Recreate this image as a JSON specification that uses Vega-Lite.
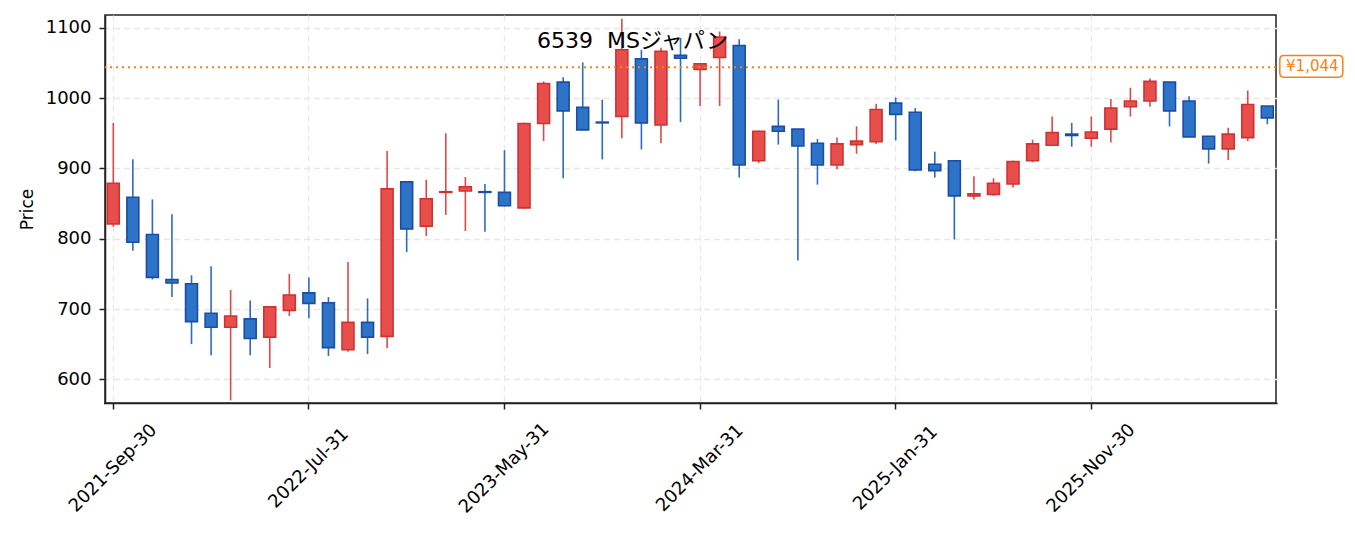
{
  "$schema": "https://vega.github.io/schema/vega-lite/v6.json",
  "width": 1171,
  "height": 388,
  "autosize": {"type": "none"},
  "padding": {"left": 105, "top": 15, "right": 79, "bottom": 130},
  "background": "white",
  "title": {
    "text": "6539\u00a0\u00a0MSジャパン",
    "anchor": "middle",
    "frame": "group",
    "offset": -55,
    "dx": -58,
    "baseline": "alphabetic",
    "font": "DejaVu Sans, Noto Sans CJK JP",
    "fontSize": 22,
    "fontWeight": "normal",
    "color": "#000000"
  },
  "datasets": {
    "candles": [
      {"d": "2021-Sep-30", "o": 821, "h": 965, "l": 817, "c": 879},
      {"d": "2021-Oct-31", "o": 859, "h": 913, "l": 783, "c": 795},
      {"d": "2021-Nov-30", "o": 806, "h": 856, "l": 742, "c": 745},
      {"d": "2021-Dec-31", "o": 742, "h": 835, "l": 717, "c": 737},
      {"d": "2022-Jan-31", "o": 736, "h": 748, "l": 650, "c": 682},
      {"d": "2022-Feb-28", "o": 694, "h": 761, "l": 634, "c": 674},
      {"d": "2022-Mar-31", "o": 674, "h": 727, "l": 570, "c": 690},
      {"d": "2022-Apr-30", "o": 686, "h": 712, "l": 634, "c": 658},
      {"d": "2022-May-31", "o": 660, "h": 704, "l": 616, "c": 703},
      {"d": "2022-Jun-30", "o": 698, "h": 750, "l": 690, "c": 720},
      {"d": "2022-Jul-31", "o": 723, "h": 745, "l": 687, "c": 708},
      {"d": "2022-Aug-31", "o": 709, "h": 717, "l": 633, "c": 645},
      {"d": "2022-Sep-30", "o": 642, "h": 767, "l": 639, "c": 681},
      {"d": "2022-Oct-31", "o": 681, "h": 715, "l": 636, "c": 660},
      {"d": "2022-Nov-30", "o": 661, "h": 925, "l": 644, "c": 871},
      {"d": "2022-Dec-31", "o": 881, "h": 882, "l": 781, "c": 814},
      {"d": "2023-Jan-31", "o": 818, "h": 884, "l": 804, "c": 857},
      {"d": "2023-Feb-28", "o": 866, "h": 950, "l": 834, "c": 867},
      {"d": "2023-Mar-31", "o": 868, "h": 888, "l": 811, "c": 874},
      {"d": "2023-Apr-30", "o": 867, "h": 878, "l": 810, "c": 866},
      {"d": "2023-May-31", "o": 866, "h": 926, "l": 846, "c": 847},
      {"d": "2023-Jun-30", "o": 844, "h": 965, "l": 843, "c": 964},
      {"d": "2023-Jul-31", "o": 964, "h": 1024, "l": 939, "c": 1021},
      {"d": "2023-Aug-31", "o": 1023, "h": 1030, "l": 886, "c": 982},
      {"d": "2023-Sep-30", "o": 987, "h": 1051, "l": 955, "c": 955},
      {"d": "2023-Oct-31", "o": 966, "h": 998, "l": 913, "c": 965},
      {"d": "2023-Nov-30", "o": 974, "h": 1113, "l": 943, "c": 1069},
      {"d": "2023-Dec-31", "o": 1056, "h": 1069, "l": 927, "c": 965},
      {"d": "2024-Jan-31", "o": 962, "h": 1072, "l": 936, "c": 1067},
      {"d": "2024-Feb-29", "o": 1061, "h": 1086, "l": 966, "c": 1057},
      {"d": "2024-Mar-31", "o": 1041, "h": 1049, "l": 989, "c": 1049},
      {"d": "2024-Apr-30", "o": 1058, "h": 1095, "l": 989, "c": 1087},
      {"d": "2024-May-31", "o": 1075, "h": 1084, "l": 887, "c": 905},
      {"d": "2024-Jun-30", "o": 911, "h": 954, "l": 908, "c": 953},
      {"d": "2024-Jul-31", "o": 960, "h": 998, "l": 934, "c": 953},
      {"d": "2024-Aug-31", "o": 956, "h": 956, "l": 769, "c": 932},
      {"d": "2024-Sep-30", "o": 936, "h": 942, "l": 877, "c": 905},
      {"d": "2024-Oct-31", "o": 905, "h": 944, "l": 899, "c": 935},
      {"d": "2024-Nov-30", "o": 934, "h": 960, "l": 921, "c": 939},
      {"d": "2024-Dec-31", "o": 938, "h": 992, "l": 935, "c": 984},
      {"d": "2025-Jan-31", "o": 993, "h": 1001, "l": 940, "c": 977},
      {"d": "2025-Feb-28", "o": 980, "h": 986, "l": 896, "c": 898},
      {"d": "2025-Mar-31", "o": 906, "h": 924, "l": 887, "c": 897},
      {"d": "2025-Apr-30", "o": 911, "h": 912, "l": 799, "c": 861},
      {"d": "2025-May-31", "o": 861, "h": 889, "l": 856, "c": 864},
      {"d": "2025-Jun-30", "o": 863, "h": 886, "l": 861, "c": 879},
      {"d": "2025-Jul-31", "o": 878, "h": 911, "l": 873, "c": 910},
      {"d": "2025-Aug-31", "o": 911, "h": 941, "l": 909, "c": 935},
      {"d": "2025-Sep-30", "o": 933, "h": 974, "l": 933, "c": 951},
      {"d": "2025-Oct-31", "o": 949, "h": 965, "l": 931, "c": 947},
      {"d": "2025-Nov-30", "o": 943, "h": 974, "l": 931, "c": 952},
      {"d": "2025-Dec-31", "o": 956, "h": 999, "l": 937, "c": 986},
      {"d": "2026-Jan-31", "o": 988, "h": 1015, "l": 974, "c": 996},
      {"d": "2026-Feb-28", "o": 996, "h": 1028, "l": 988, "c": 1024},
      {"d": "2026-Mar-31", "o": 1023, "h": 1023, "l": 960, "c": 982},
      {"d": "2026-Apr-30", "o": 996, "h": 1003, "l": 945, "c": 945},
      {"d": "2026-May-31", "o": 946, "h": 946, "l": 907, "c": 928},
      {"d": "2026-Jun-30", "o": 928, "h": 958, "l": 912, "c": 949},
      {"d": "2026-Jul-31", "o": 944, "h": 1011, "l": 939, "c": 991},
      {"d": "2026-Aug-31", "o": 989, "h": 989, "l": 963, "c": 972}
    ],
    "ref": [
      {"d": "2026-Aug-31", "v": 1044, "label": "¥1,044"}
    ]
  },
  "encoding": {
    "x": {
      "field": "d",
      "type": "ordinal",
      "sort": null,
      "scale": {"type": "band", "paddingInner": 0, "paddingOuter": 0, "range": [-1.5, 1172.1]},
      "axis": {
        "title": null,
        "values": ["2021-Sep-30", "2022-Jul-31", "2023-May-31", "2024-Mar-31", "2025-Jan-31", "2025-Nov-30"],
        "bandPosition": 0.5,
        "labelAngle": -45,
        "labelAlign": "center",
        "labelBaseline": "middle",
        "labelPadding": 59,
        "labelFont": "DejaVu Sans",
        "labelFontSize": 18,
        "labelColor": "#000000",
        "tickSize": 6,
        "tickWidth": 1.5,
        "tickColor": "#222222",
        "domainColor": "#222222",
        "domainWidth": 1.5,
        "grid": true,
        "gridColor": "#e8e8e8",
        "gridDash": [6, 4],
        "gridWidth": 1.3
      }
    }
  },
  "layer": [
    {
      "data": {"name": "candles"},
      "mark": {"type": "rule", "strokeWidth": 1.6},
      "encoding": {
        "y": {
          "field": "l",
          "type": "quantitative",
          "scale": {"domain": [566.2, 1118.5], "nice": false, "zero": false},
          "axis": {
            "title": "Price",
            "titleFont": "DejaVu Sans",
            "titleFontSize": 17,
            "titleFontWeight": "normal",
            "titleColor": "#000000",
            "titlePadding": 9,
            "values": [600, 700, 800, 900, 1000, 1100],
            "format": "d",
            "labelFont": "DejaVu Sans",
            "labelFontSize": 18,
            "labelColor": "#000000",
            "labelPadding": 8,
            "tickSize": 6,
            "tickWidth": 1.5,
            "tickColor": "#222222",
            "domainColor": "#222222",
            "domainWidth": 1.5,
            "grid": true,
            "gridColor": "#e8e8e8",
            "gridDash": [6, 4],
            "gridWidth": 1.3
          }
        },
        "y2": {"field": "h"},
        "color": {
          "condition": {"test": "datum.c >= datum.o", "value": "#e24848"},
          "value": "#2a6cc4"
        }
      }
    },
    {
      "data": {"name": "candles"},
      "mark": {"type": "bar", "width": {"band": 0.61}, "strokeWidth": 1.6},
      "encoding": {
        "y": {"field": "o", "type": "quantitative"},
        "y2": {"field": "c"},
        "fill": {
          "condition": {"test": "datum.c >= datum.o", "value": "#e84e4c"},
          "value": "#2d73c8"
        },
        "stroke": {
          "condition": {"test": "datum.c >= datum.o", "value": "#d03232"},
          "value": "#1a4ea3"
        }
      }
    },
    {
      "data": {"name": "ref"},
      "mark": {"type": "rule", "color": "#ff7f0e", "strokeDash": [2, 4], "strokeWidth": 2},
      "encoding": {
        "y": {"field": "v", "type": "quantitative"},
        "x": null
      }
    },
    {
      "data": {"name": "ref"},
      "mark": {
        "type": "point",
        "shape": "M-0.87,-0.345L0.87,-0.345Q1,-0.345 1,-0.215L1,0.215Q1,0.345 0.87,0.345L-0.87,0.345Q-1,0.345 -1,0.215L-1,-0.215Q-1,-0.345 -0.87,-0.345Z",
        "size": 3970,
        "filled": false,
        "fill": "white",
        "fillOpacity": 1,
        "stroke": "#ff7f0e",
        "strokeWidth": 1.5,
        "opacity": 1,
        "xOffset": 44,
        "yOffset": -1
      },
      "encoding": {
        "y": {"field": "v", "type": "quantitative"}
      }
    },
    {
      "data": {"name": "ref"},
      "mark": {
        "type": "text",
        "font": "DejaVu Sans",
        "fontSize": 15,
        "color": "#ff7f0e",
        "align": "center",
        "baseline": "middle",
        "xOffset": 45,
        "yOffset": -1
      },
      "encoding": {
        "y": {"field": "v", "type": "quantitative"},
        "text": {"field": "label"}
      }
    }
  ],
  "config": {
    "view": {"stroke": "#222222", "strokeWidth": 1.5},
    "axis": {"labelFlush": false, "labelOverlap": false}
  }
}
